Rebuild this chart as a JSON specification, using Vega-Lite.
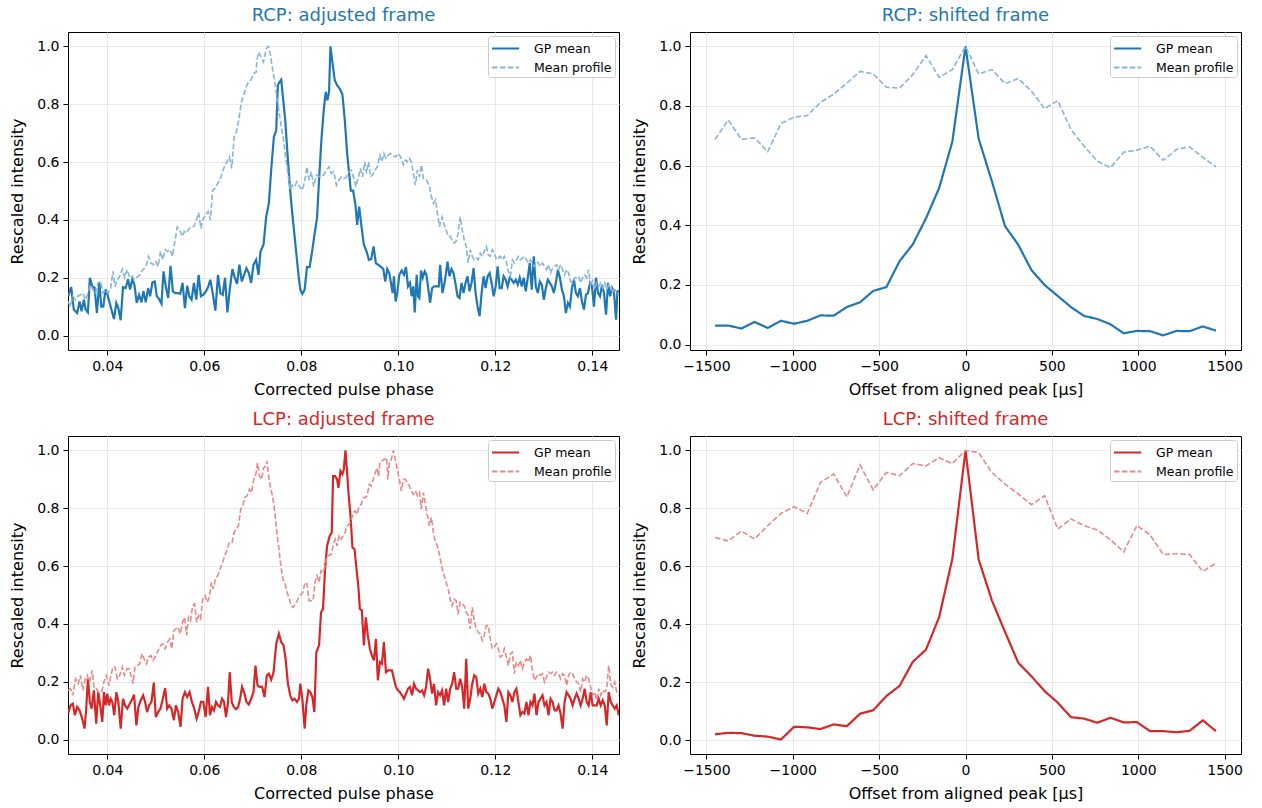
{
"$schema": "https://vega.github.io/schema/vega-lite/v6.json",
"padding": {"left": 9, "top": 6, "right": 5, "bottom": 5},
"background": "white",
"datasets": {
"rcp_adj": [
{"series":"GP mean","x":0.03193,"y":0.136},{"series":"GP mean","x":0.03255,"y":0.168},{"series":"GP mean","x":0.0331,"y":0.09},{"series":"GP mean","x":0.03379,"y":0.078},{"series":"GP mean","x":0.03428,"y":0.118},{"series":"GP mean","x":0.03469,"y":0.084},{"series":"GP mean","x":0.03517,"y":0.124},{"series":"GP mean","x":0.03552,"y":0.09},{"series":"GP mean","x":0.036,"y":0.08},{"series":"GP mean","x":0.03641,"y":0.2},{"series":"GP mean","x":0.0369,"y":0.17},{"series":"GP mean","x":0.03738,"y":0.165},{"series":"GP mean","x":0.03786,"y":0.078},{"series":"GP mean","x":0.03835,"y":0.185},{"series":"GP mean","x":0.03876,"y":0.1},{"series":"GP mean","x":0.03917,"y":0.1},{"series":"GP mean","x":0.03966,"y":0.16},{"series":"GP mean","x":0.04014,"y":0.136},{"series":"GP mean","x":0.04069,"y":0.1},{"series":"GP mean","x":0.04138,"y":0.057},{"series":"GP mean","x":0.04186,"y":0.113},{"series":"GP mean","x":0.04228,"y":0.095},{"series":"GP mean","x":0.04276,"y":0.053},{"series":"GP mean","x":0.04324,"y":0.167},{"series":"GP mean","x":0.04379,"y":0.164},{"series":"GP mean","x":0.04428,"y":0.195},{"series":"GP mean","x":0.04469,"y":0.159},{"series":"GP mean","x":0.04517,"y":0.195},{"series":"GP mean","x":0.04559,"y":0.176},{"series":"GP mean","x":0.04607,"y":0.113},{"series":"GP mean","x":0.04655,"y":0.141},{"series":"GP mean","x":0.04704,"y":0.115},{"series":"GP mean","x":0.04745,"y":0.153},{"series":"GP mean","x":0.04793,"y":0.115},{"series":"GP mean","x":0.04842,"y":0.164},{"series":"GP mean","x":0.04883,"y":0.136},{"series":"GP mean","x":0.04931,"y":0.184},{"series":"GP mean","x":0.04979,"y":0.187},{"series":"GP mean","x":0.05021,"y":0.136},{"series":"GP mean","x":0.05069,"y":0.126},{"series":"GP mean","x":0.05117,"y":0.11},{"series":"GP mean","x":0.05159,"y":0.222},{"series":"GP mean","x":0.05207,"y":0.17},{"series":"GP mean","x":0.05255,"y":0.13},{"series":"GP mean","x":0.05304,"y":0.241},{"series":"GP mean","x":0.05352,"y":0.153},{"series":"GP mean","x":0.054,"y":0.147},{"series":"GP mean","x":0.05448,"y":0.147},{"series":"GP mean","x":0.05504,"y":0.145},{"series":"GP mean","x":0.05552,"y":0.182},{"series":"GP mean","x":0.056,"y":0.095},{"series":"GP mean","x":0.05648,"y":0.172},{"series":"GP mean","x":0.0569,"y":0.136},{"series":"GP mean","x":0.05738,"y":0.124},{"series":"GP mean","x":0.05786,"y":0.182},{"series":"GP mean","x":0.05835,"y":0.124},{"series":"GP mean","x":0.05883,"y":0.21},{"series":"GP mean","x":0.05931,"y":0.136},{"series":"GP mean","x":0.0598,"y":0.141},{"series":"GP mean","x":0.06035,"y":0.153},{"series":"GP mean","x":0.06083,"y":0.17},{"series":"GP mean","x":0.06124,"y":0.193},{"series":"GP mean","x":0.06173,"y":0.147},{"series":"GP mean","x":0.06228,"y":0.086},{"series":"GP mean","x":0.06283,"y":0.21},{"series":"GP mean","x":0.06331,"y":0.147},{"series":"GP mean","x":0.0638,"y":0.141},{"series":"GP mean","x":0.06428,"y":0.2},{"series":"GP mean","x":0.06476,"y":0.08},{"series":"GP mean","x":0.06524,"y":0.159},{"series":"GP mean","x":0.0658,"y":0.23},{"series":"GP mean","x":0.06628,"y":0.2},{"series":"GP mean","x":0.06676,"y":0.179},{"series":"GP mean","x":0.06724,"y":0.245},{"series":"GP mean","x":0.06773,"y":0.187},{"series":"GP mean","x":0.06821,"y":0.21},{"series":"GP mean","x":0.06869,"y":0.233},{"series":"GP mean","x":0.06918,"y":0.216},{"series":"GP mean","x":0.06966,"y":0.182},{"series":"GP mean","x":0.07014,"y":0.245},{"series":"GP mean","x":0.07069,"y":0.262},
{"series":"GP mean","x":0.07117,"y":0.21},{"series":"GP mean","x":0.07159,"y":0.291},{"series":"GP mean","x":0.07221,"y":0.314},{"series":"GP mean","x":0.07276,"y":0.411},{"series":"GP mean","x":0.07331,"y":0.457},{"series":"GP mean","x":0.07379,"y":0.572},{"series":"GP mean","x":0.07434,"y":0.687},{"series":"GP mean","x":0.07483,"y":0.71},{"series":"GP mean","x":0.07517,"y":0.866},{"series":"GP mean","x":0.07552,"y":0.877},{"series":"GP mean","x":0.07586,"y":0.885},{"series":"GP mean","x":0.07621,"y":0.825},{"series":"GP mean","x":0.07669,"y":0.745},{"series":"GP mean","x":0.0771,"y":0.641},{"series":"GP mean","x":0.07759,"y":0.526},{"series":"GP mean","x":0.07807,"y":0.434},{"series":"GP mean","x":0.07848,"y":0.366},{"series":"GP mean","x":0.07897,"y":0.285},{"series":"GP mean","x":0.07945,"y":0.205},{"series":"GP mean","x":0.07979,"y":0.159},{"series":"GP mean","x":0.08021,"y":0.144},{"series":"GP mean","x":0.08069,"y":0.159},{"series":"GP mean","x":0.08117,"y":0.237},{"series":"GP mean","x":0.08172,"y":0.237},{"series":"GP mean","x":0.08228,"y":0.297},{"series":"GP mean","x":0.08276,"y":0.354},{"series":"GP mean","x":0.08324,"y":0.406},{"series":"GP mean","x":0.08366,"y":0.538},{"series":"GP mean","x":0.08414,"y":0.676},{"series":"GP mean","x":0.08462,"y":0.779},{"series":"GP mean","x":0.08503,"y":0.843},{"series":"GP mean","x":0.08538,"y":0.814},{"series":"GP mean","x":0.08572,"y":0.843},{"series":"GP mean","x":0.086,"y":1.0},{"series":"GP mean","x":0.08641,"y":0.946},{"series":"GP mean","x":0.0869,"y":0.883},{"series":"GP mean","x":0.08738,"y":0.866},{"series":"GP mean","x":0.08793,"y":0.854},{"series":"GP mean","x":0.08848,"y":0.834},{"series":"GP mean","x":0.08897,"y":0.745},{"series":"GP mean","x":0.08945,"y":0.63},{"series":"GP mean","x":0.08986,"y":0.561},{"series":"GP mean","x":0.09021,"y":0.501},{"series":"GP mean","x":0.09069,"y":0.501},{"series":"GP mean","x":0.09117,"y":0.451},{"series":"GP mean","x":0.09152,"y":0.383},{"series":"GP mean","x":0.09193,"y":0.446},{"series":"GP mean","x":0.09241,"y":0.377},{"series":"GP mean","x":0.0929,"y":0.314},{"series":"GP mean","x":0.09345,"y":0.291},{"series":"GP mean","x":0.09393,"y":0.262},{"series":"GP mean","x":0.09441,"y":0.264},{"series":"GP mean","x":0.0949,"y":0.308},{"series":"GP mean","x":0.09538,"y":0.25},{"series":"GP mean","x":0.09586,"y":0.245},{"series":"GP mean","x":0.09635,"y":0.239},{"series":"GP mean","x":0.0969,"y":0.23},{"series":"GP mean","x":0.09731,"y":0.187},{"series":"GP mean","x":0.09772,"y":0.23},{"series":"GP mean","x":0.09814,"y":0.216},{"series":"GP mean","x":0.09848,"y":0.182},{"series":"GP mean","x":0.09883,"y":0.147},{"series":"GP mean","x":0.0991,"y":0.205},{"series":"GP mean","x":0.09945,"y":0.118},{"series":"GP mean","x":0.09979,"y":0.147},{"series":"GP mean","x":0.10021,"y":0.21},{"series":"GP mean","x":0.1007,"y":0.225},{"series":"GP mean","x":0.10117,"y":0.21},{"series":"GP mean","x":0.10159,"y":0.237},{"series":"GP mean","x":0.102,"y":0.17},{"series":"GP mean","x":0.10241,"y":0.182},{"series":"GP mean","x":0.10276,"y":0.136},{"series":"GP mean","x":0.1031,"y":0.17},{"series":"GP mean","x":0.10338,"y":0.08},{"series":"GP mean","x":0.10379,"y":0.21},{"series":"GP mean","x":0.10407,"y":0.136},{"series":"GP mean","x":0.10434,"y":0.13},{"series":"GP mean","x":0.10469,"y":0.225},{"series":"GP mean","x":0.10503,"y":0.2},{"series":"GP mean","x":0.10545,"y":0.222},{"series":"GP mean","x":0.10579,"y":0.21},{"series":"GP mean","x":0.10621,"y":0.159},{"series":"GP mean","x":0.10655,"y":0.113},{"series":"GP mean","x":0.10697,"y":0.164},{"series":"GP mean","x":0.10738,"y":0.17},{"series":"GP mean","x":0.10793,"y":0.17},{"series":"GP mean","x":0.10834,"y":0.17},
{"series":"GP mean","x":0.10862,"y":0.245},{"series":"GP mean","x":0.1091,"y":0.147},{"series":"GP mean","x":0.10959,"y":0.187},{"series":"GP mean","x":0.11014,"y":0.256},{"series":"GP mean","x":0.11055,"y":0.205},{"series":"GP mean","x":0.11097,"y":0.23},{"series":"GP mean","x":0.11138,"y":0.216},{"series":"GP mean","x":0.11179,"y":0.179},{"series":"GP mean","x":0.11221,"y":0.136},{"series":"GP mean","x":0.11262,"y":0.13},{"series":"GP mean","x":0.11303,"y":0.182},{"series":"GP mean","x":0.11345,"y":0.147},{"series":"GP mean","x":0.11386,"y":0.182},{"series":"GP mean","x":0.11428,"y":0.205},{"series":"GP mean","x":0.11469,"y":0.153},{"series":"GP mean","x":0.1151,"y":0.182},{"series":"GP mean","x":0.11552,"y":0.233},{"series":"GP mean","x":0.11593,"y":0.147},{"series":"GP mean","x":0.11634,"y":0.1},{"series":"GP mean","x":0.11676,"y":0.067},{"series":"GP mean","x":0.11717,"y":0.147},{"series":"GP mean","x":0.11759,"y":0.205},{"series":"GP mean","x":0.118,"y":0.164},{"series":"GP mean","x":0.11841,"y":0.205},{"series":"GP mean","x":0.11883,"y":0.216},{"series":"GP mean","x":0.11924,"y":0.182},{"series":"GP mean","x":0.11966,"y":0.136},{"series":"GP mean","x":0.12007,"y":0.17},{"series":"GP mean","x":0.12048,"y":0.239},{"series":"GP mean","x":0.1209,"y":0.164},{"series":"GP mean","x":0.12131,"y":0.164},{"series":"GP mean","x":0.12172,"y":0.205},{"series":"GP mean","x":0.12214,"y":0.193},{"series":"GP mean","x":0.12255,"y":0.17},{"series":"GP mean","x":0.12297,"y":0.2},{"series":"GP mean","x":0.12338,"y":0.193},{"series":"GP mean","x":0.12379,"y":0.182},{"series":"GP mean","x":0.12421,"y":0.193},{"series":"GP mean","x":0.12462,"y":0.176},{"series":"GP mean","x":0.12503,"y":0.2},{"series":"GP mean","x":0.12545,"y":0.17},{"series":"GP mean","x":0.12586,"y":0.2},{"series":"GP mean","x":0.12628,"y":0.153},{"series":"GP mean","x":0.12669,"y":0.2},{"series":"GP mean","x":0.1271,"y":0.251},{"series":"GP mean","x":0.12752,"y":0.159},{"series":"GP mean","x":0.12793,"y":0.274},{"series":"GP mean","x":0.12834,"y":0.17},{"series":"GP mean","x":0.12876,"y":0.147},{"series":"GP mean","x":0.12917,"y":0.187},{"series":"GP mean","x":0.12959,"y":0.176},{"series":"GP mean","x":0.13,"y":0.124},{"series":"GP mean","x":0.13041,"y":0.164},{"series":"GP mean","x":0.13083,"y":0.193},{"series":"GP mean","x":0.13124,"y":0.182},{"series":"GP mean","x":0.13166,"y":0.17},{"series":"GP mean","x":0.13207,"y":0.147},{"series":"GP mean","x":0.13248,"y":0.182},{"series":"GP mean","x":0.1329,"y":0.228},{"series":"GP mean","x":0.13331,"y":0.2},{"series":"GP mean","x":0.13372,"y":0.159},{"series":"GP mean","x":0.13414,"y":0.136},{"series":"GP mean","x":0.13455,"y":0.078},{"series":"GP mean","x":0.13497,"y":0.113},{"series":"GP mean","x":0.13538,"y":0.1},{"series":"GP mean","x":0.13579,"y":0.164},{"series":"GP mean","x":0.13621,"y":0.193},{"series":"GP mean","x":0.13662,"y":0.147},{"series":"GP mean","x":0.13703,"y":0.136},{"series":"GP mean","x":0.13745,"y":0.164},{"series":"GP mean","x":0.13786,"y":0.118},{"series":"GP mean","x":0.13828,"y":0.09},{"series":"GP mean","x":0.13869,"y":0.141},{"series":"GP mean","x":0.1391,"y":0.147},{"series":"GP mean","x":0.13952,"y":0.182},{"series":"GP mean","x":0.13993,"y":0.17},{"series":"GP mean","x":0.14034,"y":0.1},{"series":"GP mean","x":0.14076,"y":0.2},{"series":"GP mean","x":0.14117,"y":0.147},{"series":"GP mean","x":0.14159,"y":0.136},{"series":"GP mean","x":0.142,"y":0.176},{"series":"GP mean","x":0.14241,"y":0.147},{"series":"GP mean","x":0.14283,"y":0.072},{"series":"GP mean","x":0.14324,"y":0.182},{"series":"GP mean","x":0.14366,"y":0.136},{"series":"GP mean","x":0.14407,"y":0.164},{"series":"GP mean","x":0.14448,"y":0.147},{"series":"GP mean","x":0.1449,"y":0.055},{"series":"GP mean","x":0.14517,"y":0.153},{"series":"GP mean","x":0.14552,"y":0.153},
{"series":"Mean profile","x":0.03193,"y":0.118},{"series":"Mean profile","x":0.03241,"y":0.1},{"series":"Mean profile","x":0.0329,"y":0.136},{"series":"Mean profile","x":0.03345,"y":0.124},{"series":"Mean profile","x":0.03393,"y":0.136},{"series":"Mean profile","x":0.03448,"y":0.141},{"series":"Mean profile","x":0.03497,"y":0.147},{"series":"Mean profile","x":0.03552,"y":0.124},{"series":"Mean profile","x":0.036,"y":0.147},{"series":"Mean profile","x":0.03655,"y":0.176},{"series":"Mean profile","x":0.03703,"y":0.159},{"series":"Mean profile","x":0.03759,"y":0.147},{"series":"Mean profile","x":0.03807,"y":0.182},{"series":"Mean profile","x":0.03862,"y":0.187},{"series":"Mean profile","x":0.0391,"y":0.147},{"series":"Mean profile","x":0.03966,"y":0.159},{"series":"Mean profile","x":0.04014,"y":0.147},{"series":"Mean profile","x":0.04069,"y":0.164},{"series":"Mean profile","x":0.04117,"y":0.222},{"series":"Mean profile","x":0.04159,"y":0.17},{"series":"Mean profile","x":0.04207,"y":0.193},{"series":"Mean profile","x":0.04255,"y":0.205},{"series":"Mean profile","x":0.0431,"y":0.23},{"series":"Mean profile","x":0.04359,"y":0.2},{"series":"Mean profile","x":0.04407,"y":0.228},{"series":"Mean profile","x":0.04455,"y":0.205},{"series":"Mean profile","x":0.04503,"y":0.21},{"series":"Mean profile","x":0.04552,"y":0.193},{"series":"Mean profile","x":0.046,"y":0.2},{"series":"Mean profile","x":0.04655,"y":0.207},{"series":"Mean profile","x":0.04704,"y":0.222},{"series":"Mean profile","x":0.04752,"y":0.23},{"series":"Mean profile","x":0.048,"y":0.241},{"series":"Mean profile","x":0.04848,"y":0.274},{"series":"Mean profile","x":0.04897,"y":0.251},{"series":"Mean profile","x":0.04952,"y":0.245},{"series":"Mean profile","x":0.05,"y":0.256},{"series":"Mean profile","x":0.05048,"y":0.239},{"series":"Mean profile","x":0.05097,"y":0.291},{"series":"Mean profile","x":0.05145,"y":0.262},{"series":"Mean profile","x":0.05193,"y":0.297},{"series":"Mean profile","x":0.05241,"y":0.291},{"series":"Mean profile","x":0.0529,"y":0.297},{"series":"Mean profile","x":0.05345,"y":0.274},{"series":"Mean profile","x":0.05393,"y":0.325},{"series":"Mean profile","x":0.05441,"y":0.375},{"series":"Mean profile","x":0.0549,"y":0.366},{"series":"Mean profile","x":0.05538,"y":0.343},{"series":"Mean profile","x":0.05586,"y":0.36},{"series":"Mean profile","x":0.05635,"y":0.355},{"series":"Mean profile","x":0.0569,"y":0.371},{"series":"Mean profile","x":0.05738,"y":0.377},{"series":"Mean profile","x":0.05786,"y":0.377},{"series":"Mean profile","x":0.05835,"y":0.4},{"series":"Mean profile","x":0.05883,"y":0.425},{"series":"Mean profile","x":0.05931,"y":0.371},{"series":"Mean profile","x":0.0598,"y":0.406},{"series":"Mean profile","x":0.06028,"y":0.417},{"series":"Mean profile","x":0.06076,"y":0.429},{"series":"Mean profile","x":0.06124,"y":0.4},{"series":"Mean profile","x":0.06173,"y":0.503},{"series":"Mean profile","x":0.06221,"y":0.509},{"series":"Mean profile","x":0.06276,"y":0.526},{"series":"Mean profile","x":0.06324,"y":0.538},{"series":"Mean profile","x":0.06373,"y":0.567},{"series":"Mean profile","x":0.06421,"y":0.586},{"series":"Mean profile","x":0.06469,"y":0.601},{"series":"Mean profile","x":0.06517,"y":0.618},{"series":"Mean profile","x":0.06566,"y":0.578},{"series":"Mean profile","x":0.06614,"y":0.687},{"series":"Mean profile","x":0.06662,"y":0.705},{"series":"Mean profile","x":0.06711,"y":0.745},{"series":"Mean profile","x":0.06759,"y":0.802},{"series":"Mean profile","x":0.06807,"y":0.831},{"series":"Mean profile","x":0.06862,"y":0.86},{"series":"Mean profile","x":0.06911,"y":0.877},{"series":"Mean profile","x":0.06966,"y":0.885},{"series":"Mean profile","x":0.07014,"y":0.906},{"series":"Mean profile","x":0.07069,"y":0.911},
{"series":"Mean profile","x":0.07083,"y":0.952},{"series":"Mean profile","x":0.07124,"y":0.98},{"series":"Mean profile","x":0.07172,"y":0.963},{"series":"Mean profile","x":0.07221,"y":0.946},{"series":"Mean profile","x":0.07276,"y":0.992},{"series":"Mean profile","x":0.07317,"y":1.0},{"series":"Mean profile","x":0.07359,"y":0.975},{"series":"Mean profile","x":0.074,"y":0.929},{"series":"Mean profile","x":0.07448,"y":0.883},{"series":"Mean profile","x":0.07497,"y":0.825},{"series":"Mean profile","x":0.07538,"y":0.779},{"series":"Mean profile","x":0.07586,"y":0.722},{"series":"Mean profile","x":0.07634,"y":0.676},{"series":"Mean profile","x":0.07676,"y":0.618},{"series":"Mean profile","x":0.07724,"y":0.561},{"series":"Mean profile","x":0.07772,"y":0.503},{"series":"Mean profile","x":0.07814,"y":0.52},{"series":"Mean profile","x":0.07862,"y":0.515},{"series":"Mean profile","x":0.0791,"y":0.532},{"series":"Mean profile","x":0.07966,"y":0.515},{"series":"Mean profile","x":0.08021,"y":0.503},{"series":"Mean profile","x":0.08069,"y":0.532},{"series":"Mean profile","x":0.08117,"y":0.584},{"series":"Mean profile","x":0.08159,"y":0.538},{"series":"Mean profile","x":0.08207,"y":0.567},{"series":"Mean profile","x":0.08255,"y":0.515},{"series":"Mean profile","x":0.0831,"y":0.555},{"series":"Mean profile","x":0.08366,"y":0.549},{"series":"Mean profile","x":0.08414,"y":0.555},{"series":"Mean profile","x":0.08462,"y":0.555},{"series":"Mean profile","x":0.08517,"y":0.572},{"series":"Mean profile","x":0.08572,"y":0.584},{"series":"Mean profile","x":0.0862,"y":0.561},{"series":"Mean profile","x":0.08669,"y":0.567},{"series":"Mean profile","x":0.08724,"y":0.52},{"series":"Mean profile","x":0.08779,"y":0.538},{"series":"Mean profile","x":0.08828,"y":0.549},{"series":"Mean profile","x":0.08876,"y":0.543},{"series":"Mean profile","x":0.08931,"y":0.549},{"series":"Mean profile","x":0.08986,"y":0.567},{"series":"Mean profile","x":0.09034,"y":0.572},{"series":"Mean profile","x":0.09083,"y":0.543},{"series":"Mean profile","x":0.09124,"y":0.515},{"series":"Mean profile","x":0.09172,"y":0.543},{"series":"Mean profile","x":0.09221,"y":0.578},{"series":"Mean profile","x":0.09262,"y":0.549},{"series":"Mean profile","x":0.0931,"y":0.601},{"series":"Mean profile","x":0.09345,"y":0.561},{"series":"Mean profile","x":0.09386,"y":0.601},{"series":"Mean profile","x":0.09428,"y":0.549},{"series":"Mean profile","x":0.09469,"y":0.555},{"series":"Mean profile","x":0.09517,"y":0.572},{"series":"Mean profile","x":0.09566,"y":0.584},{"series":"Mean profile","x":0.09621,"y":0.624},{"series":"Mean profile","x":0.09662,"y":0.601},{"series":"Mean profile","x":0.09703,"y":0.63},{"series":"Mean profile","x":0.09745,"y":0.613},{"series":"Mean profile","x":0.09793,"y":0.624},{"series":"Mean profile","x":0.09841,"y":0.63},{"series":"Mean profile","x":0.09897,"y":0.621},{"series":"Mean profile","x":0.09945,"y":0.618},{"series":"Mean profile","x":0.1,"y":0.63},{"series":"Mean profile","x":0.10048,"y":0.618},{"series":"Mean profile","x":0.10103,"y":0.59},{"series":"Mean profile","x":0.10145,"y":0.607},{"series":"Mean profile","x":0.10186,"y":0.601},{"series":"Mean profile","x":0.10228,"y":0.613},{"series":"Mean profile","x":0.10269,"y":0.601},{"series":"Mean profile","x":0.1031,"y":0.561},{"series":"Mean profile","x":0.10352,"y":0.52},{"series":"Mean profile","x":0.10393,"y":0.572},{"series":"Mean profile","x":0.10434,"y":0.549},{"series":"Mean profile","x":0.10476,"y":0.59},{"series":"Mean profile","x":0.10517,"y":0.543},{"series":"Mean profile","x":0.10559,"y":0.543},{"series":"Mean profile","x":0.106,"y":0.532},{"series":"Mean profile","x":0.10641,"y":0.515},{"series":"Mean profile","x":0.10683,"y":0.48},{"series":"Mean profile","x":0.10724,"y":0.457},{"series":"Mean profile","x":0.10766,"y":0.469},{"series":"Mean profile","x":0.10807,"y":0.423},{"series":"Mean profile","x":0.10848,"y":0.377},
{"series":"Mean profile","x":0.10903,"y":0.41},{"series":"Mean profile","x":0.10945,"y":0.383},{"series":"Mean profile","x":0.10986,"y":0.366},{"series":"Mean profile","x":0.11028,"y":0.343},{"series":"Mean profile","x":0.11069,"y":0.343},{"series":"Mean profile","x":0.1111,"y":0.331},{"series":"Mean profile","x":0.11152,"y":0.32},{"series":"Mean profile","x":0.11193,"y":0.326},{"series":"Mean profile","x":0.11234,"y":0.354},{"series":"Mean profile","x":0.11276,"y":0.411},{"series":"Mean profile","x":0.11317,"y":0.366},{"series":"Mean profile","x":0.11359,"y":0.331},{"series":"Mean profile","x":0.114,"y":0.308},{"series":"Mean profile","x":0.11441,"y":0.251},{"series":"Mean profile","x":0.11483,"y":0.297},{"series":"Mean profile","x":0.11524,"y":0.274},{"series":"Mean profile","x":0.11566,"y":0.262},{"series":"Mean profile","x":0.11607,"y":0.268},{"series":"Mean profile","x":0.11648,"y":0.262},{"series":"Mean profile","x":0.1169,"y":0.285},{"series":"Mean profile","x":0.11731,"y":0.274},{"series":"Mean profile","x":0.11773,"y":0.291},{"series":"Mean profile","x":0.11814,"y":0.308},{"series":"Mean profile","x":0.11855,"y":0.279},{"series":"Mean profile","x":0.11897,"y":0.274},{"series":"Mean profile","x":0.11938,"y":0.297},{"series":"Mean profile","x":0.1198,"y":0.285},{"series":"Mean profile","x":0.12021,"y":0.262},{"series":"Mean profile","x":0.12062,"y":0.268},{"series":"Mean profile","x":0.12104,"y":0.274},{"series":"Mean profile","x":0.12145,"y":0.262},{"series":"Mean profile","x":0.12186,"y":0.274},{"series":"Mean profile","x":0.12228,"y":0.256},{"series":"Mean profile","x":0.12269,"y":0.222},{"series":"Mean profile","x":0.12311,"y":0.205},{"series":"Mean profile","x":0.12352,"y":0.262},{"series":"Mean profile","x":0.12393,"y":0.251},{"series":"Mean profile","x":0.12435,"y":0.262},{"series":"Mean profile","x":0.12476,"y":0.274},{"series":"Mean profile","x":0.12517,"y":0.262},{"series":"Mean profile","x":0.12559,"y":0.268},{"series":"Mean profile","x":0.126,"y":0.274},{"series":"Mean profile","x":0.12642,"y":0.262},{"series":"Mean profile","x":0.12683,"y":0.251},{"series":"Mean profile","x":0.12724,"y":0.262},{"series":"Mean profile","x":0.12766,"y":0.245},{"series":"Mean profile","x":0.12807,"y":0.239},{"series":"Mean profile","x":0.12849,"y":0.256},{"series":"Mean profile","x":0.1289,"y":0.251},{"series":"Mean profile","x":0.12931,"y":0.239},{"series":"Mean profile","x":0.12973,"y":0.251},{"series":"Mean profile","x":0.13014,"y":0.239},{"series":"Mean profile","x":0.13055,"y":0.228},{"series":"Mean profile","x":0.13097,"y":0.245},{"series":"Mean profile","x":0.13138,"y":0.216},{"series":"Mean profile","x":0.1318,"y":0.233},{"series":"Mean profile","x":0.13221,"y":0.239},{"series":"Mean profile","x":0.13262,"y":0.245},{"series":"Mean profile","x":0.13304,"y":0.228},{"series":"Mean profile","x":0.13345,"y":0.245},{"series":"Mean profile","x":0.13387,"y":0.228},{"series":"Mean profile","x":0.13428,"y":0.21},{"series":"Mean profile","x":0.13469,"y":0.228},{"series":"Mean profile","x":0.13511,"y":0.216},{"series":"Mean profile","x":0.13552,"y":0.187},{"series":"Mean profile","x":0.13593,"y":0.182},{"series":"Mean profile","x":0.13635,"y":0.2},{"series":"Mean profile","x":0.13676,"y":0.2},{"series":"Mean profile","x":0.13718,"y":0.205},{"series":"Mean profile","x":0.13759,"y":0.182},{"series":"Mean profile","x":0.138,"y":0.2},{"series":"Mean profile","x":0.13842,"y":0.21},{"series":"Mean profile","x":0.13883,"y":0.2},{"series":"Mean profile","x":0.13924,"y":0.228},{"series":"Mean profile","x":0.13966,"y":0.17},{"series":"Mean profile","x":0.14007,"y":0.193},{"series":"Mean profile","x":0.14049,"y":0.159},{"series":"Mean profile","x":0.1409,"y":0.182},{"series":"Mean profile","x":0.14131,"y":0.17},{"series":"Mean profile","x":0.14173,"y":0.182},{"series":"Mean profile","x":0.14214,"y":0.164},{"series":"Mean profile","x":0.14256,"y":0.182},{"series":"Mean profile","x":0.14297,"y":0.159},{"series":"Mean profile","x":0.14338,"y":0.176},{"series":"Mean profile","x":0.1438,"y":0.17},{"series":"Mean profile","x":0.14421,"y":0.147},{"series":"Mean profile","x":0.14462,"y":0.159},{"series":"Mean profile","x":0.14504,"y":0.147},{"series":"Mean profile","x":0.14545,"y":0.141}
],
"lcp_adj": [
{"series":"GP mean","x":0.03193,"y":0.09},{"series":"GP mean","x":0.03241,"y":0.118},{"series":"GP mean","x":0.0329,"y":0.124},{"series":"GP mean","x":0.03331,"y":0.084},{"series":"GP mean","x":0.03379,"y":0.113},{"series":"GP mean","x":0.03428,"y":0.101},{"series":"GP mean","x":0.03483,"y":0.072},{"series":"GP mean","x":0.03531,"y":0.038},{"series":"GP mean","x":0.03566,"y":0.107},{"series":"GP mean","x":0.036,"y":0.21},{"series":"GP mean","x":0.03641,"y":0.13},{"series":"GP mean","x":0.03676,"y":0.107},{"series":"GP mean","x":0.03724,"y":0.17},{"series":"GP mean","x":0.03772,"y":0.055},{"series":"GP mean","x":0.03814,"y":0.164},{"series":"GP mean","x":0.03855,"y":0.118},{"series":"GP mean","x":0.03897,"y":0.061},{"series":"GP mean","x":0.03931,"y":0.164},{"series":"GP mean","x":0.03966,"y":0.118},{"series":"GP mean","x":0.04,"y":0.159},{"series":"GP mean","x":0.04034,"y":0.118},{"series":"GP mean","x":0.04069,"y":0.141},{"series":"GP mean","x":0.04103,"y":0.13},{"series":"GP mean","x":0.04145,"y":0.084},{"series":"GP mean","x":0.04186,"y":0.164},{"series":"GP mean","x":0.04228,"y":0.13},{"series":"GP mean","x":0.04276,"y":0.038},{"series":"GP mean","x":0.04324,"y":0.141},{"series":"GP mean","x":0.04366,"y":0.118},{"series":"GP mean","x":0.04414,"y":0.107},{"series":"GP mean","x":0.04462,"y":0.124},{"series":"GP mean","x":0.04503,"y":0.136},{"series":"GP mean","x":0.04552,"y":0.155},{"series":"GP mean","x":0.046,"y":0.049},{"series":"GP mean","x":0.04641,"y":0.113},{"series":"GP mean","x":0.0469,"y":0.136},{"series":"GP mean","x":0.04738,"y":0.153},{"series":"GP mean","x":0.04779,"y":0.13},{"series":"GP mean","x":0.04821,"y":0.095},{"series":"GP mean","x":0.04862,"y":0.118},{"series":"GP mean","x":0.0491,"y":0.13},{"series":"GP mean","x":0.04959,"y":0.197},{"series":"GP mean","x":0.05,"y":0.078},{"series":"GP mean","x":0.05048,"y":0.095},{"series":"GP mean","x":0.05097,"y":0.107},{"series":"GP mean","x":0.05138,"y":0.136},{"series":"GP mean","x":0.05193,"y":0.178},{"series":"GP mean","x":0.05235,"y":0.107},{"series":"GP mean","x":0.05276,"y":0.118},{"series":"GP mean","x":0.05324,"y":0.107},{"series":"GP mean","x":0.05373,"y":0.067},{"series":"GP mean","x":0.05414,"y":0.118},{"series":"GP mean","x":0.05462,"y":0.095},{"series":"GP mean","x":0.0551,"y":0.044},{"series":"GP mean","x":0.05552,"y":0.141},{"series":"GP mean","x":0.056,"y":0.164},{"series":"GP mean","x":0.05648,"y":0.147},{"series":"GP mean","x":0.05697,"y":0.164},{"series":"GP mean","x":0.05745,"y":0.13},{"series":"GP mean","x":0.05793,"y":0.107},{"series":"GP mean","x":0.05842,"y":0.072},{"series":"GP mean","x":0.05883,"y":0.095},{"series":"GP mean","x":0.05931,"y":0.13},{"series":"GP mean","x":0.0598,"y":0.13},{"series":"GP mean","x":0.06028,"y":0.078},{"series":"GP mean","x":0.06076,"y":0.182},{"series":"GP mean","x":0.06117,"y":0.084},{"series":"GP mean","x":0.06159,"y":0.113},{"series":"GP mean","x":0.062,"y":0.101},{"series":"GP mean","x":0.06241,"y":0.13},{"series":"GP mean","x":0.06283,"y":0.118},{"series":"GP mean","x":0.06324,"y":0.113},{"series":"GP mean","x":0.06366,"y":0.141},{"series":"GP mean","x":0.06407,"y":0.13},{"series":"GP mean","x":0.06448,"y":0.078},{"series":"GP mean","x":0.0649,"y":0.13},{"series":"GP mean","x":0.06524,"y":0.233},{"series":"GP mean","x":0.06566,"y":0.13},{"series":"GP mean","x":0.06607,"y":0.113},{"series":"GP mean","x":0.06655,"y":0.105},{"series":"GP mean","x":0.06697,"y":0.113},{"series":"GP mean","x":0.06738,"y":0.141},{"series":"GP mean","x":0.06779,"y":0.182},{"series":"GP mean","x":0.06828,"y":0.159},{"series":"GP mean","x":0.06869,"y":0.13},{"series":"GP mean","x":0.06917,"y":0.121},{"series":"GP mean","x":0.06966,"y":0.141},{"series":"GP mean","x":0.07014,"y":0.164},{"series":"GP mean","x":0.07055,"y":0.256},
{"series":"GP mean","x":0.07097,"y":0.187},{"series":"GP mean","x":0.07138,"y":0.182},{"series":"GP mean","x":0.07193,"y":0.182},{"series":"GP mean","x":0.07241,"y":0.147},{"series":"GP mean","x":0.0729,"y":0.222},{"series":"GP mean","x":0.07331,"y":0.228},{"series":"GP mean","x":0.07379,"y":0.207},{"series":"GP mean","x":0.07428,"y":0.233},{"series":"GP mean","x":0.07483,"y":0.331},{"series":"GP mean","x":0.07538,"y":0.366},{"series":"GP mean","x":0.07586,"y":0.337},{"series":"GP mean","x":0.07634,"y":0.326},{"series":"GP mean","x":0.07676,"y":0.279},{"series":"GP mean","x":0.07724,"y":0.193},{"series":"GP mean","x":0.07772,"y":0.153},{"series":"GP mean","x":0.07814,"y":0.136},{"series":"GP mean","x":0.07862,"y":0.141},{"series":"GP mean","x":0.0791,"y":0.13},{"series":"GP mean","x":0.07952,"y":0.141},{"series":"GP mean","x":0.07979,"y":0.193},{"series":"GP mean","x":0.08021,"y":0.141},{"series":"GP mean","x":0.08069,"y":0.038},{"series":"GP mean","x":0.08103,"y":0.118},{"series":"GP mean","x":0.08145,"y":0.17},{"series":"GP mean","x":0.08186,"y":0.164},{"series":"GP mean","x":0.08228,"y":0.147},{"series":"GP mean","x":0.08269,"y":0.095},{"series":"GP mean","x":0.0831,"y":0.302},{"series":"GP mean","x":0.08366,"y":0.326},{"series":"GP mean","x":0.08407,"y":0.44},{"series":"GP mean","x":0.08448,"y":0.452},{"series":"GP mean","x":0.0849,"y":0.59},{"series":"GP mean","x":0.08531,"y":0.67},{"series":"GP mean","x":0.08586,"y":0.705},{"series":"GP mean","x":0.08628,"y":0.716},{"series":"GP mean","x":0.08655,"y":0.911},{"series":"GP mean","x":0.08697,"y":0.911},{"series":"GP mean","x":0.08738,"y":0.9},{"series":"GP mean","x":0.08766,"y":0.871},{"series":"GP mean","x":0.08807,"y":0.929},{"series":"GP mean","x":0.08848,"y":0.918},{"series":"GP mean","x":0.08876,"y":0.934},{"series":"GP mean","x":0.0891,"y":1.0},{"series":"GP mean","x":0.08945,"y":0.923},{"series":"GP mean","x":0.08972,"y":0.854},{"series":"GP mean","x":0.09014,"y":0.774},{"series":"GP mean","x":0.09055,"y":0.664},{"series":"GP mean","x":0.09097,"y":0.659},{"series":"GP mean","x":0.09138,"y":0.59},{"series":"GP mean","x":0.0918,"y":0.521},{"series":"GP mean","x":0.09207,"y":0.452},{"series":"GP mean","x":0.09248,"y":0.447},{"series":"GP mean","x":0.0929,"y":0.326},{"series":"GP mean","x":0.09331,"y":0.423},{"series":"GP mean","x":0.09372,"y":0.36},{"series":"GP mean","x":0.09414,"y":0.314},{"series":"GP mean","x":0.09455,"y":0.291},{"series":"GP mean","x":0.09497,"y":0.274},{"series":"GP mean","x":0.09538,"y":0.348},{"series":"GP mean","x":0.09579,"y":0.205},{"series":"GP mean","x":0.09621,"y":0.268},{"series":"GP mean","x":0.09662,"y":0.262},{"series":"GP mean","x":0.09703,"y":0.337},{"series":"GP mean","x":0.09745,"y":0.233},{"series":"GP mean","x":0.09786,"y":0.239},{"series":"GP mean","x":0.09828,"y":0.239},{"series":"GP mean","x":0.09869,"y":0.239},{"series":"GP mean","x":0.0991,"y":0.21},{"series":"GP mean","x":0.09952,"y":0.182},{"series":"GP mean","x":0.09993,"y":0.17},{"series":"GP mean","x":0.10034,"y":0.164},{"series":"GP mean","x":0.10076,"y":0.153},{"series":"GP mean","x":0.10117,"y":0.141},{"series":"GP mean","x":0.10159,"y":0.159},{"series":"GP mean","x":0.102,"y":0.176},{"series":"GP mean","x":0.10241,"y":0.182},{"series":"GP mean","x":0.10283,"y":0.153},{"series":"GP mean","x":0.10324,"y":0.193},{"series":"GP mean","x":0.10366,"y":0.176},{"series":"GP mean","x":0.10407,"y":0.17},{"series":"GP mean","x":0.10448,"y":0.164},{"series":"GP mean","x":0.1049,"y":0.17},{"series":"GP mean","x":0.10531,"y":0.153},{"series":"GP mean","x":0.10572,"y":0.182},{"series":"GP mean","x":0.10614,"y":0.245},{"series":"GP mean","x":0.10655,"y":0.21},{"series":"GP mean","x":0.10697,"y":0.159},{"series":"GP mean","x":0.10738,"y":0.193},{"series":"GP mean","x":0.10779,"y":0.118},{"series":"GP mean","x":0.10821,"y":0.164},{"series":"GP mean","x":0.10862,"y":0.153},
{"series":"GP mean","x":0.10903,"y":0.17},{"series":"GP mean","x":0.10945,"y":0.118},{"series":"GP mean","x":0.10986,"y":0.176},{"series":"GP mean","x":0.11028,"y":0.13},{"series":"GP mean","x":0.11069,"y":0.176},{"series":"GP mean","x":0.1111,"y":0.193},{"series":"GP mean","x":0.11152,"y":0.233},{"series":"GP mean","x":0.11193,"y":0.176},{"series":"GP mean","x":0.11234,"y":0.176},{"series":"GP mean","x":0.11276,"y":0.21},{"series":"GP mean","x":0.11317,"y":0.182},{"series":"GP mean","x":0.11359,"y":0.107},{"series":"GP mean","x":0.114,"y":0.279},{"series":"GP mean","x":0.11441,"y":0.107},{"series":"GP mean","x":0.11483,"y":0.141},{"series":"GP mean","x":0.11524,"y":0.193},{"series":"GP mean","x":0.11566,"y":0.222},{"series":"GP mean","x":0.11607,"y":0.216},{"series":"GP mean","x":0.11648,"y":0.159},{"series":"GP mean","x":0.1169,"y":0.176},{"series":"GP mean","x":0.11731,"y":0.147},{"series":"GP mean","x":0.11773,"y":0.193},{"series":"GP mean","x":0.11814,"y":0.164},{"series":"GP mean","x":0.11855,"y":0.159},{"series":"GP mean","x":0.11897,"y":0.141},{"series":"GP mean","x":0.11938,"y":0.107},{"series":"GP mean","x":0.1198,"y":0.13},{"series":"GP mean","x":0.12021,"y":0.153},{"series":"GP mean","x":0.12062,"y":0.176},{"series":"GP mean","x":0.12104,"y":0.164},{"series":"GP mean","x":0.12145,"y":0.141},{"series":"GP mean","x":0.12186,"y":0.118},{"series":"GP mean","x":0.12228,"y":0.061},{"series":"GP mean","x":0.12269,"y":0.164},{"series":"GP mean","x":0.12311,"y":0.153},{"series":"GP mean","x":0.12352,"y":0.13},{"series":"GP mean","x":0.12393,"y":0.164},{"series":"GP mean","x":0.12435,"y":0.176},{"series":"GP mean","x":0.12476,"y":0.13},{"series":"GP mean","x":0.12517,"y":0.084},{"series":"GP mean","x":0.12559,"y":0.095},{"series":"GP mean","x":0.126,"y":0.09},{"series":"GP mean","x":0.12642,"y":0.13},{"series":"GP mean","x":0.12683,"y":0.084},{"series":"GP mean","x":0.12724,"y":0.13},{"series":"GP mean","x":0.12766,"y":0.118},{"series":"GP mean","x":0.12807,"y":0.159},{"series":"GP mean","x":0.12849,"y":0.084},{"series":"GP mean","x":0.1289,"y":0.13},{"series":"GP mean","x":0.12931,"y":0.141},{"series":"GP mean","x":0.12973,"y":0.153},{"series":"GP mean","x":0.13014,"y":0.118},{"series":"GP mean","x":0.13055,"y":0.13},{"series":"GP mean","x":0.13097,"y":0.084},{"series":"GP mean","x":0.13138,"y":0.141},{"series":"GP mean","x":0.1318,"y":0.13},{"series":"GP mean","x":0.13221,"y":0.101},{"series":"GP mean","x":0.13262,"y":0.101},{"series":"GP mean","x":0.13304,"y":0.118},{"series":"GP mean","x":0.13345,"y":0.09},{"series":"GP mean","x":0.13387,"y":0.038},{"series":"GP mean","x":0.13428,"y":0.13},{"series":"GP mean","x":0.13469,"y":0.164},{"series":"GP mean","x":0.13511,"y":0.153},{"series":"GP mean","x":0.13552,"y":0.141},{"series":"GP mean","x":0.13593,"y":0.118},{"series":"GP mean","x":0.13635,"y":0.141},{"series":"GP mean","x":0.13676,"y":0.159},{"series":"GP mean","x":0.13718,"y":0.141},{"series":"GP mean","x":0.13759,"y":0.118},{"series":"GP mean","x":0.138,"y":0.141},{"series":"GP mean","x":0.13842,"y":0.176},{"series":"GP mean","x":0.13883,"y":0.13},{"series":"GP mean","x":0.13924,"y":0.118},{"series":"GP mean","x":0.13966,"y":0.164},{"series":"GP mean","x":0.14007,"y":0.118},{"series":"GP mean","x":0.14049,"y":0.118},{"series":"GP mean","x":0.1409,"y":0.118},{"series":"GP mean","x":0.14131,"y":0.141},{"series":"GP mean","x":0.14173,"y":0.118},{"series":"GP mean","x":0.14214,"y":0.136},{"series":"GP mean","x":0.14256,"y":0.118},{"series":"GP mean","x":0.14297,"y":0.049},{"series":"GP mean","x":0.14338,"y":0.164},{"series":"GP mean","x":0.1438,"y":0.13},{"series":"GP mean","x":0.14421,"y":0.118},{"series":"GP mean","x":0.14462,"y":0.107},{"series":"GP mean","x":0.14504,"y":0.118},{"series":"GP mean","x":0.14545,"y":0.084},
{"series":"Mean profile","x":0.03193,"y":0.17},{"series":"Mean profile","x":0.03241,"y":0.176},{"series":"Mean profile","x":0.0329,"y":0.153},{"series":"Mean profile","x":0.03345,"y":0.21},{"series":"Mean profile","x":0.034,"y":0.193},{"series":"Mean profile","x":0.03448,"y":0.222},{"series":"Mean profile","x":0.03497,"y":0.17},{"series":"Mean profile","x":0.03538,"y":0.205},{"series":"Mean profile","x":0.03586,"y":0.222},{"series":"Mean profile","x":0.03634,"y":0.199},{"series":"Mean profile","x":0.0369,"y":0.239},{"series":"Mean profile","x":0.03731,"y":0.176},{"series":"Mean profile","x":0.03772,"y":0.176},{"series":"Mean profile","x":0.03828,"y":0.164},{"series":"Mean profile","x":0.03883,"y":0.164},{"series":"Mean profile","x":0.03931,"y":0.199},{"series":"Mean profile","x":0.03979,"y":0.222},{"series":"Mean profile","x":0.04034,"y":0.187},{"series":"Mean profile","x":0.04076,"y":0.222},{"series":"Mean profile","x":0.04117,"y":0.251},{"series":"Mean profile","x":0.04159,"y":0.251},{"series":"Mean profile","x":0.04207,"y":0.21},{"series":"Mean profile","x":0.04255,"y":0.222},{"series":"Mean profile","x":0.0431,"y":0.251},{"series":"Mean profile","x":0.04352,"y":0.222},{"series":"Mean profile","x":0.04407,"y":0.245},{"series":"Mean profile","x":0.04448,"y":0.245},{"series":"Mean profile","x":0.0449,"y":0.222},{"series":"Mean profile","x":0.04531,"y":0.193},{"series":"Mean profile","x":0.04572,"y":0.251},{"series":"Mean profile","x":0.04621,"y":0.256},{"series":"Mean profile","x":0.04669,"y":0.262},{"series":"Mean profile","x":0.04717,"y":0.297},{"series":"Mean profile","x":0.04759,"y":0.279},{"series":"Mean profile","x":0.0481,"y":0.262},{"series":"Mean profile","x":0.04848,"y":0.285},{"series":"Mean profile","x":0.04897,"y":0.291},{"series":"Mean profile","x":0.04945,"y":0.274},{"series":"Mean profile","x":0.05,"y":0.291},{"series":"Mean profile","x":0.05048,"y":0.308},{"series":"Mean profile","x":0.05097,"y":0.325},{"series":"Mean profile","x":0.05145,"y":0.331},{"series":"Mean profile","x":0.05193,"y":0.314},{"series":"Mean profile","x":0.05241,"y":0.337},{"series":"Mean profile","x":0.0529,"y":0.348},{"series":"Mean profile","x":0.05331,"y":0.314},{"series":"Mean profile","x":0.05373,"y":0.377},{"series":"Mean profile","x":0.05414,"y":0.383},{"series":"Mean profile","x":0.05455,"y":0.389},{"series":"Mean profile","x":0.05504,"y":0.366},{"series":"Mean profile","x":0.05552,"y":0.406},{"series":"Mean profile","x":0.05593,"y":0.423},{"series":"Mean profile","x":0.05635,"y":0.36},{"series":"Mean profile","x":0.05676,"y":0.423},{"series":"Mean profile","x":0.05717,"y":0.411},{"series":"Mean profile","x":0.05759,"y":0.463},{"series":"Mean profile","x":0.058,"y":0.469},{"series":"Mean profile","x":0.05842,"y":0.406},{"series":"Mean profile","x":0.05883,"y":0.429},{"series":"Mean profile","x":0.05924,"y":0.417},{"series":"Mean profile","x":0.05966,"y":0.486},{"series":"Mean profile","x":0.06014,"y":0.498},{"series":"Mean profile","x":0.06062,"y":0.475},{"series":"Mean profile","x":0.06104,"y":0.492},{"series":"Mean profile","x":0.06145,"y":0.544},{"series":"Mean profile","x":0.06186,"y":0.521},{"series":"Mean profile","x":0.06228,"y":0.555},{"series":"Mean profile","x":0.06276,"y":0.567},{"series":"Mean profile","x":0.06324,"y":0.59},{"series":"Mean profile","x":0.06379,"y":0.613},{"series":"Mean profile","x":0.06421,"y":0.636},{"series":"Mean profile","x":0.06476,"y":0.659},{"series":"Mean profile","x":0.06517,"y":0.682},{"series":"Mean profile","x":0.06573,"y":0.682},{"series":"Mean profile","x":0.06614,"y":0.716},{"series":"Mean profile","x":0.06655,"y":0.728},{"series":"Mean profile","x":0.06704,"y":0.739},{"series":"Mean profile","x":0.06752,"y":0.797},{"series":"Mean profile","x":0.06793,"y":0.808},{"series":"Mean profile","x":0.06835,"y":0.837},{"series":"Mean profile","x":0.06883,"y":0.843},{"series":"Mean profile","x":0.06931,"y":0.866},{"series":"Mean profile","x":0.06973,"y":0.854},{"series":"Mean profile","x":0.07021,"y":0.9},{"series":"Mean profile","x":0.07069,"y":0.923},
{"series":"Mean profile","x":0.07097,"y":0.957},{"series":"Mean profile","x":0.07138,"y":0.911},{"series":"Mean profile","x":0.0718,"y":0.9},{"series":"Mean profile","x":0.07221,"y":0.94},{"series":"Mean profile","x":0.07262,"y":0.946},{"series":"Mean profile","x":0.0729,"y":0.963},{"series":"Mean profile","x":0.07317,"y":0.923},{"series":"Mean profile","x":0.07359,"y":0.877},{"series":"Mean profile","x":0.07414,"y":0.837},{"series":"Mean profile","x":0.07455,"y":0.785},{"series":"Mean profile","x":0.07497,"y":0.716},{"series":"Mean profile","x":0.07538,"y":0.659},{"series":"Mean profile","x":0.07579,"y":0.601},{"series":"Mean profile","x":0.07621,"y":0.555},{"series":"Mean profile","x":0.07662,"y":0.544},{"series":"Mean profile","x":0.07703,"y":0.51},{"series":"Mean profile","x":0.07745,"y":0.492},{"series":"Mean profile","x":0.07786,"y":0.463},{"series":"Mean profile","x":0.07828,"y":0.457},{"series":"Mean profile","x":0.07883,"y":0.469},{"series":"Mean profile","x":0.07931,"y":0.486},{"series":"Mean profile","x":0.07979,"y":0.498},{"series":"Mean profile","x":0.08034,"y":0.51},{"series":"Mean profile","x":0.08076,"y":0.544},{"series":"Mean profile","x":0.08117,"y":0.538},{"series":"Mean profile","x":0.08159,"y":0.48},{"series":"Mean profile","x":0.082,"y":0.48},{"series":"Mean profile","x":0.08241,"y":0.48},{"series":"Mean profile","x":0.08283,"y":0.544},{"series":"Mean profile","x":0.08324,"y":0.567},{"series":"Mean profile","x":0.08366,"y":0.544},{"series":"Mean profile","x":0.08407,"y":0.584},{"series":"Mean profile","x":0.08448,"y":0.578},{"series":"Mean profile","x":0.0849,"y":0.601},{"series":"Mean profile","x":0.08531,"y":0.636},{"series":"Mean profile","x":0.08572,"y":0.636},{"series":"Mean profile","x":0.08614,"y":0.641},{"series":"Mean profile","x":0.08655,"y":0.67},{"series":"Mean profile","x":0.08697,"y":0.693},{"series":"Mean profile","x":0.08738,"y":0.67},{"series":"Mean profile","x":0.08779,"y":0.705},{"series":"Mean profile","x":0.08821,"y":0.693},{"series":"Mean profile","x":0.08862,"y":0.705},{"series":"Mean profile","x":0.08903,"y":0.716},{"series":"Mean profile","x":0.08945,"y":0.739},{"series":"Mean profile","x":0.08986,"y":0.745},{"series":"Mean profile","x":0.09028,"y":0.756},{"series":"Mean profile","x":0.09069,"y":0.785},{"series":"Mean profile","x":0.0911,"y":0.791},{"series":"Mean profile","x":0.09152,"y":0.779},{"series":"Mean profile","x":0.09193,"y":0.808},{"series":"Mean profile","x":0.09235,"y":0.814},{"series":"Mean profile","x":0.09276,"y":0.837},{"series":"Mean profile","x":0.09317,"y":0.837},{"series":"Mean profile","x":0.09359,"y":0.844},{"series":"Mean profile","x":0.094,"y":0.883},{"series":"Mean profile","x":0.09441,"y":0.877},{"series":"Mean profile","x":0.09483,"y":0.9},{"series":"Mean profile","x":0.09524,"y":0.923},{"series":"Mean profile","x":0.09566,"y":0.94},{"series":"Mean profile","x":0.09593,"y":0.911},{"series":"Mean profile","x":0.09621,"y":0.957},{"series":"Mean profile","x":0.09662,"y":0.963},{"series":"Mean profile","x":0.09703,"y":0.969},{"series":"Mean profile","x":0.09731,"y":0.969},{"series":"Mean profile","x":0.09759,"y":0.975},{"series":"Mean profile","x":0.09786,"y":0.9},{"series":"Mean profile","x":0.09814,"y":0.957},{"series":"Mean profile","x":0.09855,"y":0.969},{"series":"Mean profile","x":0.09897,"y":1.0},{"series":"Mean profile","x":0.09938,"y":0.969},{"series":"Mean profile","x":0.09979,"y":0.934},{"series":"Mean profile","x":0.10021,"y":0.9},{"series":"Mean profile","x":0.10062,"y":0.86},{"series":"Mean profile","x":0.10103,"y":0.9},{"series":"Mean profile","x":0.10145,"y":0.9},{"series":"Mean profile","x":0.10186,"y":0.889},{"series":"Mean profile","x":0.10228,"y":0.877},{"series":"Mean profile","x":0.10269,"y":0.86},{"series":"Mean profile","x":0.1031,"y":0.848},{"series":"Mean profile","x":0.10352,"y":0.86},{"series":"Mean profile","x":0.10393,"y":0.843},{"series":"Mean profile","x":0.10434,"y":0.854},{"series":"Mean profile","x":0.10476,"y":0.797},{"series":"Mean profile","x":0.10517,"y":0.854},{"series":"Mean profile","x":0.10559,"y":0.814},{"series":"Mean profile","x":0.106,"y":0.774},{"series":"Mean profile","x":0.10641,"y":0.739},{"series":"Mean profile","x":0.10683,"y":0.768},{"series":"Mean profile","x":0.10724,"y":0.716},{"series":"Mean profile","x":0.10766,"y":0.682},{"series":"Mean profile","x":0.10807,"y":0.67},{"series":"Mean profile","x":0.10848,"y":0.641},
{"series":"Mean profile","x":0.10903,"y":0.59},{"series":"Mean profile","x":0.10945,"y":0.567},{"series":"Mean profile","x":0.10986,"y":0.544},{"series":"Mean profile","x":0.11028,"y":0.521},{"series":"Mean profile","x":0.11069,"y":0.486},{"series":"Mean profile","x":0.1111,"y":0.463},{"series":"Mean profile","x":0.11152,"y":0.486},{"series":"Mean profile","x":0.11193,"y":0.48},{"series":"Mean profile","x":0.11234,"y":0.434},{"series":"Mean profile","x":0.11276,"y":0.475},{"series":"Mean profile","x":0.11317,"y":0.469},{"series":"Mean profile","x":0.11359,"y":0.463},{"series":"Mean profile","x":0.114,"y":0.44},{"series":"Mean profile","x":0.11441,"y":0.429},{"series":"Mean profile","x":0.11483,"y":0.383},{"series":"Mean profile","x":0.11524,"y":0.457},{"series":"Mean profile","x":0.11566,"y":0.411},{"series":"Mean profile","x":0.11607,"y":0.383},{"series":"Mean profile","x":0.11648,"y":0.371},{"series":"Mean profile","x":0.1169,"y":0.366},{"series":"Mean profile","x":0.11731,"y":0.343},{"series":"Mean profile","x":0.11773,"y":0.36},{"series":"Mean profile","x":0.11814,"y":0.394},{"series":"Mean profile","x":0.11855,"y":0.394},{"series":"Mean profile","x":0.11897,"y":0.348},{"series":"Mean profile","x":0.11938,"y":0.314},{"series":"Mean profile","x":0.1198,"y":0.32},{"series":"Mean profile","x":0.12021,"y":0.331},{"series":"Mean profile","x":0.12062,"y":0.314},{"series":"Mean profile","x":0.12104,"y":0.285},{"series":"Mean profile","x":0.12145,"y":0.291},{"series":"Mean profile","x":0.12186,"y":0.314},{"series":"Mean profile","x":0.12228,"y":0.285},{"series":"Mean profile","x":0.12269,"y":0.256},{"series":"Mean profile","x":0.12311,"y":0.297},{"series":"Mean profile","x":0.12352,"y":0.302},{"series":"Mean profile","x":0.12393,"y":0.228},{"series":"Mean profile","x":0.12435,"y":0.268},{"series":"Mean profile","x":0.12476,"y":0.256},{"series":"Mean profile","x":0.12517,"y":0.274},{"series":"Mean profile","x":0.12559,"y":0.245},{"series":"Mean profile","x":0.126,"y":0.268},{"series":"Mean profile","x":0.12642,"y":0.279},{"series":"Mean profile","x":0.12683,"y":0.268},{"series":"Mean profile","x":0.12724,"y":0.291},{"series":"Mean profile","x":0.12766,"y":0.239},{"series":"Mean profile","x":0.12807,"y":0.205},{"series":"Mean profile","x":0.12849,"y":0.216},{"series":"Mean profile","x":0.1289,"y":0.228},{"series":"Mean profile","x":0.12931,"y":0.222},{"series":"Mean profile","x":0.12973,"y":0.228},{"series":"Mean profile","x":0.13014,"y":0.199},{"series":"Mean profile","x":0.13055,"y":0.216},{"series":"Mean profile","x":0.13097,"y":0.233},{"series":"Mean profile","x":0.13138,"y":0.228},{"series":"Mean profile","x":0.1318,"y":0.233},{"series":"Mean profile","x":0.13221,"y":0.222},{"series":"Mean profile","x":0.13262,"y":0.233},{"series":"Mean profile","x":0.13304,"y":0.228},{"series":"Mean profile","x":0.13345,"y":0.21},{"series":"Mean profile","x":0.13387,"y":0.228},{"series":"Mean profile","x":0.13428,"y":0.222},{"series":"Mean profile","x":0.13469,"y":0.187},{"series":"Mean profile","x":0.13511,"y":0.222},{"series":"Mean profile","x":0.13552,"y":0.233},{"series":"Mean profile","x":0.13593,"y":0.228},{"series":"Mean profile","x":0.13635,"y":0.21},{"series":"Mean profile","x":0.13676,"y":0.199},{"series":"Mean profile","x":0.13718,"y":0.193},{"series":"Mean profile","x":0.13759,"y":0.164},{"series":"Mean profile","x":0.138,"y":0.21},{"series":"Mean profile","x":0.13842,"y":0.199},{"series":"Mean profile","x":0.13883,"y":0.222},{"series":"Mean profile","x":0.13924,"y":0.21},{"series":"Mean profile","x":0.13966,"y":0.182},{"series":"Mean profile","x":0.14007,"y":0.153},{"series":"Mean profile","x":0.14049,"y":0.164},{"series":"Mean profile","x":0.1409,"y":0.136},{"series":"Mean profile","x":0.14131,"y":0.176},{"series":"Mean profile","x":0.14173,"y":0.153},{"series":"Mean profile","x":0.14214,"y":0.17},{"series":"Mean profile","x":0.14256,"y":0.164},{"series":"Mean profile","x":0.14297,"y":0.176},{"series":"Mean profile","x":0.14338,"y":0.256},{"series":"Mean profile","x":0.1438,"y":0.19},{"series":"Mean profile","x":0.14421,"y":0.18},{"series":"Mean profile","x":0.14462,"y":0.199},{"series":"Mean profile","x":0.14504,"y":0.164},{"series":"Mean profile","x":0.14545,"y":0.153}
],
"rcp_shift": [
{"series":"GP mean","x":-1450,"y":0.064},{"series":"GP mean","x":-1373.7,"y":0.064},{"series":"GP mean","x":-1297.4,"y":0.054},{"series":"GP mean","x":-1221.1,"y":0.076},{"series":"GP mean","x":-1144.7,"y":0.056},{"series":"GP mean","x":-1068.4,"y":0.08},{"series":"GP mean","x":-992.1,"y":0.07},{"series":"GP mean","x":-915.8,"y":0.08},{"series":"GP mean","x":-839.5,"y":0.098},{"series":"GP mean","x":-763.2,"y":0.097},{"series":"GP mean","x":-686.8,"y":0.126},{"series":"GP mean","x":-610.5,"y":0.142},{"series":"GP mean","x":-534.2,"y":0.18},{"series":"GP mean","x":-457.9,"y":0.193},{"series":"GP mean","x":-381.6,"y":0.28},{"series":"GP mean","x":-305.3,"y":0.336},{"series":"GP mean","x":-228.9,"y":0.423},{"series":"GP mean","x":-152.6,"y":0.525},{"series":"GP mean","x":-76.3,"y":0.68},{"series":"GP mean","x":0,"y":1.0},{"series":"GP mean","x":76.3,"y":0.69},{"series":"GP mean","x":152.6,"y":0.548},{"series":"GP mean","x":228.9,"y":0.397},{"series":"GP mean","x":305.3,"y":0.335},{"series":"GP mean","x":381.6,"y":0.25},{"series":"GP mean","x":457.9,"y":0.2},{"series":"GP mean","x":534.2,"y":0.163},{"series":"GP mean","x":610.5,"y":0.126},{"series":"GP mean","x":686.8,"y":0.096},{"series":"GP mean","x":763.2,"y":0.086},{"series":"GP mean","x":839.5,"y":0.068},{"series":"GP mean","x":915.8,"y":0.038},{"series":"GP mean","x":992.1,"y":0.046},{"series":"GP mean","x":1068.4,"y":0.045},{"series":"GP mean","x":1144.7,"y":0.031},{"series":"GP mean","x":1221.1,"y":0.046},{"series":"GP mean","x":1297.4,"y":0.045},{"series":"GP mean","x":1373.7,"y":0.061},{"series":"GP mean","x":1450,"y":0.047},
{"series":"Mean profile","x":-1450,"y":0.688},{"series":"Mean profile","x":-1373.7,"y":0.753},{"series":"Mean profile","x":-1297.4,"y":0.688},{"series":"Mean profile","x":-1221.1,"y":0.693},{"series":"Mean profile","x":-1144.7,"y":0.647},{"series":"Mean profile","x":-1068.4,"y":0.741},{"series":"Mean profile","x":-992.1,"y":0.763},{"series":"Mean profile","x":-915.8,"y":0.768},{"series":"Mean profile","x":-839.5,"y":0.812},{"series":"Mean profile","x":-763.2,"y":0.84},{"series":"Mean profile","x":-686.8,"y":0.877},{"series":"Mean profile","x":-610.5,"y":0.916},{"series":"Mean profile","x":-534.2,"y":0.908},{"series":"Mean profile","x":-457.9,"y":0.863},{"series":"Mean profile","x":-381.6,"y":0.86},{"series":"Mean profile","x":-305.3,"y":0.905},{"series":"Mean profile","x":-228.9,"y":0.969},{"series":"Mean profile","x":-152.6,"y":0.896},{"series":"Mean profile","x":-76.3,"y":0.922},{"series":"Mean profile","x":0,"y":1.0},{"series":"Mean profile","x":76.3,"y":0.907},{"series":"Mean profile","x":152.6,"y":0.922},{"series":"Mean profile","x":228.9,"y":0.875},{"series":"Mean profile","x":305.3,"y":0.892},{"series":"Mean profile","x":381.6,"y":0.85},{"series":"Mean profile","x":457.9,"y":0.791},{"series":"Mean profile","x":534.2,"y":0.818},{"series":"Mean profile","x":610.5,"y":0.721},{"series":"Mean profile","x":686.8,"y":0.665},{"series":"Mean profile","x":763.2,"y":0.615},{"series":"Mean profile","x":839.5,"y":0.593},{"series":"Mean profile","x":915.8,"y":0.645},{"series":"Mean profile","x":992.1,"y":0.652},{"series":"Mean profile","x":1068.4,"y":0.665},{"series":"Mean profile","x":1144.7,"y":0.618},{"series":"Mean profile","x":1221.1,"y":0.654},{"series":"Mean profile","x":1297.4,"y":0.663},{"series":"Mean profile","x":1373.7,"y":0.628},{"series":"Mean profile","x":1450,"y":0.596}
],
"lcp_shift": [
{"series":"GP mean","x":-1450,"y":0.021},{"series":"GP mean","x":-1373.7,"y":0.026},{"series":"GP mean","x":-1297.4,"y":0.025},{"series":"GP mean","x":-1221.1,"y":0.016},{"series":"GP mean","x":-1144.7,"y":0.013},{"series":"GP mean","x":-1068.4,"y":0.003},{"series":"GP mean","x":-992.1,"y":0.047},{"series":"GP mean","x":-915.8,"y":0.045},{"series":"GP mean","x":-839.5,"y":0.039},{"series":"GP mean","x":-763.2,"y":0.055},{"series":"GP mean","x":-686.8,"y":0.049},{"series":"GP mean","x":-610.5,"y":0.092},{"series":"GP mean","x":-534.2,"y":0.104},{"series":"GP mean","x":-457.9,"y":0.153},{"series":"GP mean","x":-381.6,"y":0.188},{"series":"GP mean","x":-305.3,"y":0.271},{"series":"GP mean","x":-228.9,"y":0.313},{"series":"GP mean","x":-152.6,"y":0.425},{"series":"GP mean","x":-76.3,"y":0.626},{"series":"GP mean","x":0,"y":1.0},{"series":"GP mean","x":76.3,"y":0.624},{"series":"GP mean","x":152.6,"y":0.483},{"series":"GP mean","x":228.9,"y":0.374},{"series":"GP mean","x":305.3,"y":0.268},{"series":"GP mean","x":381.6,"y":0.221},{"series":"GP mean","x":457.9,"y":0.17},{"series":"GP mean","x":534.2,"y":0.13},{"series":"GP mean","x":610.5,"y":0.08},{"series":"GP mean","x":686.8,"y":0.075},{"series":"GP mean","x":763.2,"y":0.061},{"series":"GP mean","x":839.5,"y":0.078},{"series":"GP mean","x":915.8,"y":0.062},{"series":"GP mean","x":992.1,"y":0.063},{"series":"GP mean","x":1068.4,"y":0.032},{"series":"GP mean","x":1144.7,"y":0.032},{"series":"GP mean","x":1221.1,"y":0.028},{"series":"GP mean","x":1297.4,"y":0.033},{"series":"GP mean","x":1373.7,"y":0.069},{"series":"GP mean","x":1450,"y":0.032},
{"series":"Mean profile","x":-1450,"y":0.7},{"series":"Mean profile","x":-1373.7,"y":0.688},{"series":"Mean profile","x":-1297.4,"y":0.722},{"series":"Mean profile","x":-1221.1,"y":0.695},{"series":"Mean profile","x":-1144.7,"y":0.741},{"series":"Mean profile","x":-1068.4,"y":0.783},{"series":"Mean profile","x":-992.1,"y":0.806},{"series":"Mean profile","x":-915.8,"y":0.783},{"series":"Mean profile","x":-839.5,"y":0.89},{"series":"Mean profile","x":-763.2,"y":0.919},{"series":"Mean profile","x":-686.8,"y":0.84},{"series":"Mean profile","x":-610.5,"y":0.95},{"series":"Mean profile","x":-534.2,"y":0.864},{"series":"Mean profile","x":-457.9,"y":0.924},{"series":"Mean profile","x":-381.6,"y":0.913},{"series":"Mean profile","x":-305.3,"y":0.955},{"series":"Mean profile","x":-228.9,"y":0.947},{"series":"Mean profile","x":-152.6,"y":0.975},{"series":"Mean profile","x":-76.3,"y":0.955},{"series":"Mean profile","x":0,"y":1.0},{"series":"Mean profile","x":76.3,"y":0.993},{"series":"Mean profile","x":152.6,"y":0.924},{"series":"Mean profile","x":228.9,"y":0.884},{"series":"Mean profile","x":305.3,"y":0.85},{"series":"Mean profile","x":381.6,"y":0.813},{"series":"Mean profile","x":457.9,"y":0.844},{"series":"Mean profile","x":534.2,"y":0.729},{"series":"Mean profile","x":610.5,"y":0.764},{"series":"Mean profile","x":686.8,"y":0.741},{"series":"Mean profile","x":763.2,"y":0.726},{"series":"Mean profile","x":839.5,"y":0.692},{"series":"Mean profile","x":915.8,"y":0.65},{"series":"Mean profile","x":992.1,"y":0.741},{"series":"Mean profile","x":1068.4,"y":0.709},{"series":"Mean profile","x":1144.7,"y":0.641},{"series":"Mean profile","x":1221.1,"y":0.644},{"series":"Mean profile","x":1297.4,"y":0.641},{"series":"Mean profile","x":1373.7,"y":0.583},{"series":"Mean profile","x":1450,"y":0.611}
]
},
"columns": 2,
"bounds": "flush",
"spacing": {"row": 86, "column": 71},
"resolve": {"scale": {"color": "independent", "strokeDash": "independent", "x": "independent", "y": "independent"}, "legend": {"color": "independent", "strokeDash": "independent"}},
"concat": [
{
"width": 551, "height": 318,
"title": {"text": "RCP: adjusted frame", "color": "#1f77b4"},
"data": {"name": "rcp_adj"},
"encoding": {
"x": {"field": "x", "type": "quantitative", "scale": {"domain": [0.0319, 0.1455], "nice": false, "zero": false}, "axis": {"title": "Corrected pulse phase", "values": [0.04, 0.06, 0.08, 0.1, 0.12, 0.14], "format": ".2f"}},
"y": {"field": "y", "type": "quantitative", "scale": {"domain": [-0.05, 1.05], "nice": false, "zero": false}, "axis": {"title": "Rescaled intensity", "values": [0, 0.2, 0.4, 0.6, 0.8, 1.0], "format": ".1f"}},
"color": {"field": "series", "type": "nominal", "scale": {"domain": ["GP mean", "Mean profile"], "range": ["#1f77b4", "#86b5d7"]}, "legend": {"title": null}},
"strokeDash": {"field": "series", "type": "nominal", "scale": {"domain": ["GP mean", "Mean profile"], "range": [[1, 0], [5.5, 2.4]]}, "legend": {"title": null}}
},
"layer": [
{"transform": [{"filter": "datum.series === 'GP mean'"}], "mark": {"type": "line", "clip": true, "strokeWidth": 2.2}},
{"transform": [{"filter": "datum.series === 'Mean profile'"}], "mark": {"type": "line", "clip": true, "strokeWidth": 1.6}}
]
},
{
"width": 551, "height": 318,
"title": {"text": "RCP: shifted frame", "color": "#1f77b4"},
"data": {"name": "rcp_shift"},
"encoding": {
"x": {"field": "x", "type": "quantitative", "scale": {"domain": [-1595, 1595], "nice": false, "zero": false}, "axis": {"title": "Offset from aligned peak [μs]", "values": [-1500, -1000, -500, 0, 500, 1000, 1500], "format": "d"}},
"y": {"field": "y", "type": "quantitative", "scale": {"domain": [-0.018, 1.048], "nice": false, "zero": false}, "axis": {"title": "Rescaled intensity", "values": [0, 0.2, 0.4, 0.6, 0.8, 1.0], "format": ".1f"}},
"color": {"field": "series", "type": "nominal", "scale": {"domain": ["GP mean", "Mean profile"], "range": ["#1f77b4", "#86b5d7"]}, "legend": {"title": null}},
"strokeDash": {"field": "series", "type": "nominal", "scale": {"domain": ["GP mean", "Mean profile"], "range": [[1, 0], [5.5, 2.4]]}, "legend": {"title": null}}
},
"layer": [
{"transform": [{"filter": "datum.series === 'GP mean'"}], "mark": {"type": "line", "clip": true, "strokeWidth": 2.2}},
{"transform": [{"filter": "datum.series === 'Mean profile'"}], "mark": {"type": "line", "clip": true, "strokeWidth": 1.6}}
]
},
{
"width": 551, "height": 318,
"title": {"text": "LCP: adjusted frame", "color": "#d62728"},
"data": {"name": "lcp_adj"},
"encoding": {
"x": {"field": "x", "type": "quantitative", "scale": {"domain": [0.0319, 0.1455], "nice": false, "zero": false}, "axis": {"title": "Corrected pulse phase", "values": [0.04, 0.06, 0.08, 0.1, 0.12, 0.14], "format": ".2f"}},
"y": {"field": "y", "type": "quantitative", "scale": {"domain": [-0.05, 1.05], "nice": false, "zero": false}, "axis": {"title": "Rescaled intensity", "values": [0, 0.2, 0.4, 0.6, 0.8, 1.0], "format": ".1f"}},
"color": {"field": "series", "type": "nominal", "scale": {"domain": ["GP mean", "Mean profile"], "range": ["#d62728", "#ea8889"]}, "legend": {"title": null}},
"strokeDash": {"field": "series", "type": "nominal", "scale": {"domain": ["GP mean", "Mean profile"], "range": [[1, 0], [5.5, 2.4]]}, "legend": {"title": null}}
},
"layer": [
{"transform": [{"filter": "datum.series === 'GP mean'"}], "mark": {"type": "line", "clip": true, "strokeWidth": 2.2}},
{"transform": [{"filter": "datum.series === 'Mean profile'"}], "mark": {"type": "line", "clip": true, "strokeWidth": 1.6}}
]
},
{
"width": 551, "height": 318,
"title": {"text": "LCP: shifted frame", "color": "#d62728"},
"data": {"name": "lcp_shift"},
"encoding": {
"x": {"field": "x", "type": "quantitative", "scale": {"domain": [-1595, 1595], "nice": false, "zero": false}, "axis": {"title": "Offset from aligned peak [μs]", "values": [-1500, -1000, -500, 0, 500, 1000, 1500], "format": "d"}},
"y": {"field": "y", "type": "quantitative", "scale": {"domain": [-0.047, 1.05], "nice": false, "zero": false}, "axis": {"title": "Rescaled intensity", "values": [0, 0.2, 0.4, 0.6, 0.8, 1.0], "format": ".1f"}},
"color": {"field": "series", "type": "nominal", "scale": {"domain": ["GP mean", "Mean profile"], "range": ["#d62728", "#ea8889"]}, "legend": {"title": null}},
"strokeDash": {"field": "series", "type": "nominal", "scale": {"domain": ["GP mean", "Mean profile"], "range": [[1, 0], [5.5, 2.4]]}, "legend": {"title": null}}
},
"layer": [
{"transform": [{"filter": "datum.series === 'GP mean'"}], "mark": {"type": "line", "clip": true, "strokeWidth": 2.2}},
{"transform": [{"filter": "datum.series === 'Mean profile'"}], "mark": {"type": "line", "clip": true, "strokeWidth": 1.6}}
]
}
],
"config": {
"font": "DejaVu Sans",
"view": {"stroke": "#000000", "strokeWidth": 1},
"axis": {"grid": true, "gridColor": "#e8e8e8", "gridWidth": 1, "domain": false, "ticks": true, "tickColor": "#000000", "tickSize": 5, "tickWidth": 1, "labelFontSize": 14, "labelColor": "#000000", "labelPadding": 4, "titleFontSize": 16, "titleFontWeight": "normal", "titleColor": "#000000"},
"axisX": {"titlePadding": 8},
"axisY": {"titlePadding": 11},
"title": {"fontSize": 18, "fontWeight": "normal", "offset": 7, "anchor": "middle"},
"legend": {"orient": "top-right", "offset": 4, "padding": 3, "strokeColor": "#cccccc", "fillColor": "#ffffff", "cornerRadius": 3, "labelFontSize": 12.5, "labelColor": "#000000", "symbolType": "M-1,0H2.2", "symbolSize": 289, "symbolStrokeWidth": 2, "rowPadding": 3, "labelOffset": 24}
}
}
